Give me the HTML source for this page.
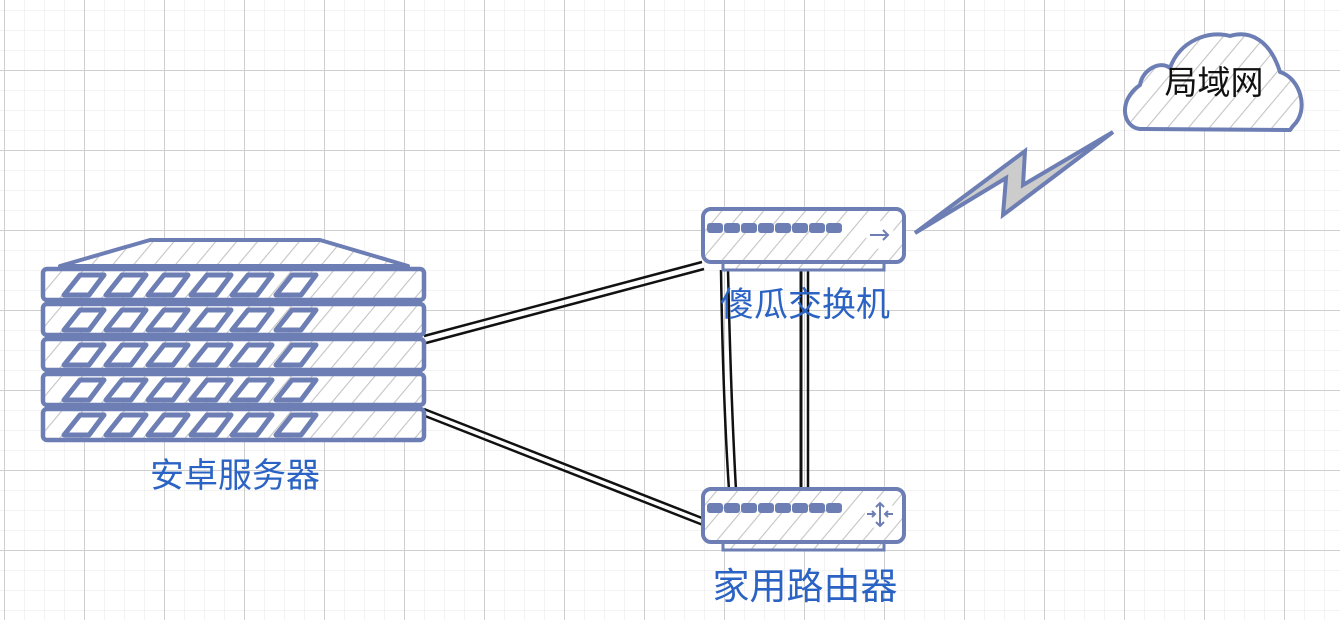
<!DOCTYPE html>
<html><head><meta charset="utf-8"><style>
html,body{margin:0;padding:0;background:#fff;}
svg{display:block;}
text{font-family:"Liberation Sans","Noto Sans CJK SC",sans-serif;}
</style></head><body>
<svg width="1340" height="620" viewBox="0 0 1340 620" xmlns="http://www.w3.org/2000/svg">
<defs>
<pattern id="minor" x="4" y="10" width="20" height="20" patternUnits="userSpaceOnUse">
<path d="M0 0V20M0 0H20" stroke="#efefef" stroke-width="1.5" fill="none"/>
</pattern>
<pattern id="major" x="4" y="70" width="80" height="80" patternUnits="userSpaceOnUse">
<path d="M0.5 0V80M0 0.5H80" stroke="#cfcfcf" stroke-width="1" fill="none"/>
</pattern>
<pattern id="hatch" width="16" height="16" patternUnits="userSpaceOnUse" patternTransform="rotate(40)">
<rect width="16" height="16" fill="#fff"/>
<line x1="0" y1="0" x2="0" y2="16" stroke="#c4c4c4" stroke-width="2.2"/>
</pattern>
<g id="slot"><path d="M64 296 L80 276 L104 276 L89 296 Z" fill="#fff" stroke="#6c7eb4" stroke-width="5" stroke-linejoin="round"/></g>
<g id="row">
<rect x="43" y="0" width="381" height="31" rx="4" fill="url(#hatch)" stroke="#6c7eb4" stroke-width="4.5"/>
<g transform="translate(0,-270)">
<use href="#slot"/><use href="#slot" x="42"/><use href="#slot" x="84"/><use href="#slot" x="127"/><use href="#slot" x="168"/><use href="#slot" x="212"/>
</g>
</g>
<g id="ports" fill="#6c7eb4">
<rect x="707" y="223" width="16" height="10" rx="3"/><rect x="724" y="223" width="16" height="10" rx="3"/><rect x="741" y="223" width="16" height="10" rx="3"/><rect x="758" y="223" width="16" height="10" rx="3"/><rect x="775" y="223" width="16" height="10" rx="3"/><rect x="792" y="223" width="16" height="10" rx="3"/><rect x="809" y="223" width="16" height="10" rx="3"/><rect x="826" y="223" width="16" height="10" rx="3"/>
</g>
</defs>
<rect width="1340" height="620" fill="#fff"/>
<rect width="1340" height="620" fill="url(#minor)"/>
<rect width="1340" height="620" fill="url(#major)"/>

<g stroke="#111" stroke-width="2.5" fill="none">
<line x1="424" y1="336" x2="702" y2="262"/><line x1="426" y1="343" x2="704" y2="269"/>
<line x1="424" y1="409" x2="702" y2="518"/><line x1="425" y1="416" x2="703" y2="525"/>
<path d="M721 270 Q723 400 729 490"/><path d="M728 270 Q731 400 736 490"/>
<line x1="801" y1="270" x2="801" y2="490" stroke-width="3"/><line x1="808" y1="270" x2="808" y2="490"/>
</g>

<path d="M60 266 L150 240 L320 240 L408 266 Z" fill="url(#hatch)" stroke="#6c7eb4" stroke-width="4" stroke-linejoin="round"/>
<use href="#row" y="269"/>
<use href="#row" y="304"/>
<use href="#row" y="339"/>
<use href="#row" y="374"/>
<use href="#row" y="409"/>
<text x="235" y="487" font-size="34" fill="#2b63c4" text-anchor="middle">安卓服务器</text>

<rect x="723" y="261" width="161" height="9" fill="url(#hatch)" stroke="#6c7eb4" stroke-width="3"/>
<rect x="703" y="209" width="201" height="53" rx="8" fill="url(#hatch)" stroke="#6c7eb4" stroke-width="4"/>
<use href="#ports"/>
<circle cx="880" cy="235" r="14" fill="#fff"/>
<path d="M870 235 H888 M883 230 L888 235 L883 240" stroke="#6c7eb4" stroke-width="2" fill="none"/>
<text x="805" y="316" font-size="34" fill="#2b63c4" text-anchor="middle">傻瓜交换机</text>

<rect x="723" y="541" width="161" height="9" fill="url(#hatch)" stroke="#6c7eb4" stroke-width="3"/>
<rect x="703" y="489" width="201" height="53" rx="8" fill="url(#hatch)" stroke="#6c7eb4" stroke-width="4"/>
<use href="#ports" y="280"/>
<circle cx="880" cy="514" r="15" fill="#fff"/>
<path d="M880 503 V526 M876 507 L880 503 L884 507 M876 522 L880 526 L884 522 M867 514 H875 M872 511 L875 514 L872 517 M893 514 H885 M888 511 L885 514 L888 517" stroke="#6c7eb4" stroke-width="2" fill="none"/>
<text x="805" y="599" font-size="37" fill="#2b63c4" text-anchor="middle">家用路由器</text>

<polygon points="915,233 1025,151 1023,185 1113,132 1003,215 1006,178" fill="#cccccc" stroke="#6c7eb4" stroke-width="4" stroke-linejoin="miter"/>

<path d="M1140 129 C1122 127 1118 100 1140 85 C1142 70 1160 60 1170 68 C1180 40 1210 30 1230 36 C1250 30 1270 40 1280 72 C1300 78 1310 110 1293 126 L1290 130 Z" fill="url(#hatch)" stroke="#6c7eb4" stroke-width="4" stroke-linejoin="round"/>
<text x="1214" y="94" font-size="33" fill="#111" text-anchor="middle">局域网</text>
</svg>
</body></html>
